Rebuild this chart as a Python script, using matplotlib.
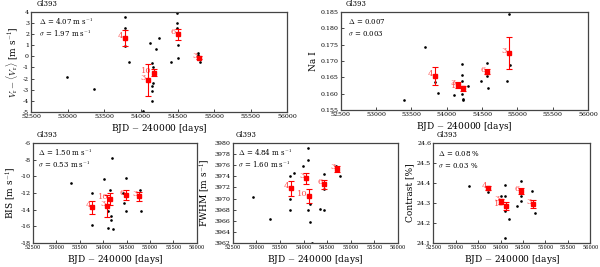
import numpy as np
import matplotlib
matplotlib.use("Agg")
from matplotlib import pyplot as plt

plt.rcParams["font.family"] = "DejaVu Serif"
plt.rcParams["mathtext.fontset"] = "cm"

XTICKS = [52500, 53000, 53500, 54000, 54500, 55000, 55500, 56000]
BIN_COUNTS = ["4", "3", "10", "6", "3"]

# radial velocity
rv_bin_x = [53784, 54094, 54171, 54504, 54795]
rv_bin_y = [1.64, -2.1, -1.46, 2.0, -0.1]
rv_bin_err = [0.72, 1.45, 0.35, 0.5, 0.12]
rv_x = [52988, 53361, 53784, 53784, 53784, 53839, 54034, 54126, 54150, 54150, 54145, 54150,
        54160, 54165, 54207, 54249, 54408, 54490, 54490, 54490, 54510, 54510, 54785, 54800, 54775]
rv_y = [-1.85, -2.96, 3.56, 2.54, 0.95, -0.5, -4.9, 1.25, -0.56, -2.66, -3.1, -4.0,
        -2.36, -1.0, 0.65, 1.7, -0.47, 3.95, 3.0, 2.6, 1.04, -0.1, 0.35, -0.55, 0.1]

# Na I index
na_bin_x = [53829, 54153, 54233, 54576, 54876]
na_bin_y = [0.1655, 0.1627, 0.1617, 0.1667, 0.1725]
na_bin_err = [0.0027, 0.001, 0.0008, 0.0008, 0.005]
na_x = [53390, 53686, 53829, 53876, 54100, 54210, 54210, 54210, 54210, 54225, 54235,
        54305, 54481, 54567, 54567, 54590, 54876, 54860, 54900]
na_y = [0.158, 0.1742, 0.1637, 0.1602, 0.1595, 0.169, 0.1657, 0.164, 0.160, 0.1585, 0.158,
        0.1625, 0.164, 0.1695, 0.1655, 0.1618, 0.1845, 0.164, 0.1688]

# bisector span
bis_bin_x = [53767, 54074, 54145, 54480, 54771]
bis_bin_y = [-13.72, -13.52, -12.72, -12.2, -12.4]
bis_bin_err = [0.75, 1.3, 0.75, 0.6, 0.5]
bis_x = [53312, 53754, 53754, 54017, 54110, 54096, 54150, 54160, 54170, 54181, 54216,
         54480, 54480, 54440, 54420, 54786, 54800]
bis_y = [-10.8, -12.0, -15.9, -10.3, -14.2, -16.2, -11.6, -14.8, -15.2, -7.8, -16.3,
         -10.2, -14.2, -13.2, -12.0, -11.6, -14.1]

# FWHM
fwhm_bin_x = [53729, 54047, 54110, 54435, 54718]
fwhm_bin_y = [3971.85, 3973.66, 3970.46, 3972.6, 3975.3]
fwhm_bin_err = [1.3, 1.0, 1.2, 0.8, 0.5]
fwhm_x = [52931, 53298, 53722, 53722, 53722, 53790, 53990, 54096, 54096, 54096, 54131,
          54175, 54131, 54357, 54435, 54435, 54435, 54767, 54680]
fwhm_y = [3970.3, 3966.4, 3974.1, 3970.0, 3967.9, 3974.7, 3975.9, 3979.1, 3976.9, 3967.9, 3965.8,
          3962.0, 3969.1, 3968.2, 3967.9, 3974.4, 3971.7, 3974.1, 3975.9]

# contrast
con_bin_x = [53718, 54017, 54110, 54444, 54729]
con_bin_y = [24.375, 24.308, 24.287, 24.358, 24.297]
con_bin_err = [0.01, 0.012, 0.02, 0.015, 0.02]
con_x = [53291, 53718, 54017, 54088, 54088, 54088, 54088, 54181, 54359, 54444, 54444,
         54444, 54700, 54760]
con_y = [24.387, 24.353, 24.333, 24.392, 24.336, 24.262, 24.125, 24.22, 24.283, 24.408,
         24.333, 24.312, 24.358, 24.25]

panels = [
    dict(rect=[0.052, 0.581, 0.427, 0.374], x=rv_x, y=rv_y, bx=rv_bin_x, by=rv_bin_y, be=rv_bin_err,
         ylim=(-5, 4), yticks=np.arange(-5, 5, 1), fmt="%d", small=False,
         ylabel=r"$V_{\rm r}-\langle V_{\rm r}\rangle$ [m s$^{-1}$]",
         text=[r"$\Delta$ = 4.07 m s$^{-1}$", r"$\sigma$ = 1.97 m s$^{-1}$"]),
    dict(rect=[0.568, 0.588, 0.412, 0.367], x=na_x, y=na_y, bx=na_bin_x, by=na_bin_y, be=na_bin_err,
         ylim=(0.155, 0.185), yticks=np.arange(0.155, 0.1851, 0.005), fmt="%.3f", small=False,
         ylabel="Na I", text=[r"$\Delta$ = 0.007", r"$\sigma$ = 0.003"]),
    dict(rect=[0.055, 0.09, 0.273, 0.374], x=bis_x, y=bis_y, bx=bis_bin_x, by=bis_bin_y, be=bis_bin_err,
         ylim=(-18, -6), yticks=np.arange(-18, -5, 2), fmt="%d", small=True,
         ylabel=r"BIS [m s$^{-1}$]",
         text=[r"$\Delta$ = 1.50 m s$^{-1}$", r"$\sigma$ = 0.53 m s$^{-1}$"]),
    dict(rect=[0.388, 0.09, 0.275, 0.374], x=fwhm_x, y=fwhm_y, bx=fwhm_bin_x, by=fwhm_bin_y, be=fwhm_bin_err,
         ylim=(3962, 3980), yticks=np.arange(3962, 3981, 2), fmt="%d", small=True,
         ylabel=r"FWHM [m s$^{-1}$]",
         text=[r"$\Delta$ = 4.84 m s$^{-1}$", r"$\sigma$ = 1.60 m s$^{-1}$"]),
    dict(rect=[0.722, 0.09, 0.262, 0.374], x=con_x, y=con_y, bx=con_bin_x, by=con_bin_y, be=con_bin_err,
         ylim=(24.1, 24.6), yticks=np.arange(24.1, 24.61, 0.1), fmt="%.1f", small=True,
         ylabel="Contrast [%]", text=[r"$\Delta$ = 0.08 %", r"$\sigma$ = 0.03 %"]),
]

fig = plt.figure(figsize=(6, 2.67), dpi=100)

for p in panels:
    ax = fig.add_axes(p["rect"])
    ax.plot(p["x"], p["y"], "k.", ms=1.8)
    ax.errorbar(p["bx"], p["by"], yerr=p["be"], fmt="s", color="red", ms=3,
                elinewidth=0.8, capsize=2, capthick=0.8)
    dy = (p["ylim"][1] - p["ylim"][0]) * 0.02
    for bx, by, n in zip(p["bx"], p["by"], BIN_COUNTS):
        ax.text(bx - 25, by + dy, n, color="red", fontsize=6, ha="right", va="center", alpha=0.7)
    ax.set_xlim(52500, 56000)
    ax.set_xticks(XTICKS)
    ax.set_ylim(*p["ylim"])
    ax.set_yticks(p["yticks"])
    ax.set_yticklabels([p["fmt"] % v for v in p["yticks"]])
    ax.tick_params(direction="in", length=2, width=0.5, labelsize=4.5, pad=1.5)
    if p["small"]:
        ax.tick_params(axis="x", labelsize=3.6)
    for s in ax.spines.values():
        s.set_linewidth(0.9)
        s.set_color("#444444")
    ax.set_xlabel("BJD $-$ 240000 [days]", fontsize=6.5, labelpad=2)
    ax.set_ylabel(p["ylabel"], fontsize=6.5, labelpad=2)
    ax.text(0.02, 1.04, "Gl393", transform=ax.transAxes, fontsize=5, va="bottom")
    ax.text(0.03, 0.9, p["text"][0], transform=ax.transAxes, fontsize=5, va="center")
    ax.text(0.03, 0.78, p["text"][1], transform=ax.transAxes, fontsize=5, va="center")

plt.savefig("out.png", dpi=100)
